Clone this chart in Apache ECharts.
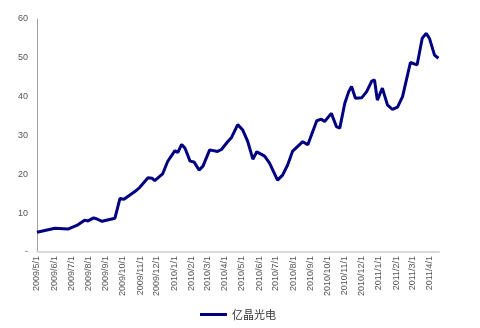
<!DOCTYPE html>
<html><head><meta charset="utf-8">
<script src="https://cdn.jsdelivr.net/npm/echarts@6/dist/echarts.min.js"></script>
<style>html,body{margin:0;padding:0;background:#fff}#c{width:480px;height:328px}</style>
</head><body><div id="c"></div>
<script>
var seriesName = '亿晶光电';
var dates = ['2009-05-01','2009-06-02','2009-06-25','2009-07-13','2009-07-25','2009-07-31','2009-08-10','2009-08-16','2009-08-25','2009-09-17',
 '2009-09-26','2009-10-03','2009-10-22','2009-10-31','2009-11-15','2009-11-22','2009-11-27','2009-12-11','2009-12-20','2010-01-02',
 '2010-01-07','2010-01-14','2010-01-20','2010-01-29','2010-02-05','2010-02-14','2010-02-21','2010-03-05','2010-03-19','2010-03-26',
 '2010-04-06','2010-04-13','2010-04-24','2010-05-03','2010-05-12','2010-05-21','2010-05-28','2010-06-11','2010-06-20','2010-07-04',
 '2010-07-13','2010-07-22','2010-07-31','2010-08-18','2010-08-27','2010-09-12','2010-09-20','2010-09-26','2010-10-08','2010-10-17',
 '2010-10-23','2010-11-01','2010-11-08','2010-11-13','2010-11-20','2010-12-01','2010-12-10','2010-12-19','2010-12-24','2010-12-29',
 '2011-01-07','2011-01-16','2011-01-25','2011-02-03','2011-02-12','2011-02-26','2011-03-10','2011-03-19','2011-03-26','2011-04-01',
 '2011-04-10','2011-04-17'];
var values = [5.1,6.1,5.9,7.0,8.2,8.0,8.8,8.5,7.9,8.7,
 13.8,13.6,15.5,16.6,19.1,19.0,18.4,20.1,23.3,26.1,
 25.6,27.7,26.7,23.4,23.2,21.1,22.1,26.3,25.9,26.4,
 28.4,29.5,32.8,31.4,28.4,23.9,25.8,24.7,22.8,18.5,
 19.8,22.4,26.0,28.4,27.6,33.8,34.2,33.6,35.7,32.3,
 31.9,38.3,41.3,42.6,39.6,39.7,41.3,44.0,44.3,39.1,
 42.2,37.9,36.7,37.3,40.0,48.8,48.2,55.0,56.3,55.0,
 50.7,49.9];
var monthTicks = ['2009-05-01','2009-06-01','2009-07-01','2009-08-01','2009-09-01','2009-10-01','2009-11-01','2009-12-01',
 '2010-01-01','2010-02-01','2010-03-01','2010-04-01','2010-05-01','2010-06-01','2010-07-01','2010-08-01','2010-09-01',
 '2010-10-01','2010-11-01','2010-12-01','2011-01-01','2011-02-01','2011-03-01','2011-04-01'];
var yTicks = [0,10,20,30,40,50,60];

function ts(s){var p=s.split('-');return new Date(+p[0],+p[1]-1,+p[2]).getTime();}
var data = dates.map(function(d,i){return [ts(d), values[i]];});
var tickTs = monthTicks.map(ts);

var chart = echarts.init(document.getElementById('c'));
chart.setOption({
  animation:false,
  grid:{left:37,right:41,top:19,bottom:76,containLabel:false},
  xAxis:{
    type:'value',
    min:ts('2009-05-01'), max:ts('2011-04-18'),
    axisLine:{lineStyle:{color:'#d9d9d9',width:2}},
    axisTick:{show:false},
    splitLine:{show:false},
    axisLabel:{
      customValues: tickTs,
      rotate:90, color:'#555', fontSize:9, fontFamily:'Liberation Sans, Arial', margin:4,
      hideOverlap:false, showMinLabel:true, showMaxLabel:true,
      formatter:function(v){var d=new Date(v);return d.getFullYear()+'/'+(d.getMonth()+1)+'/'+d.getDate();}
    }
  },
  yAxis:{
    type:'value', min:0, max:60, interval:10,
    axisLine:{show:true,lineStyle:{color:'#a0a0a0',width:1}},
    axisTick:{show:false},
    splitLine:{show:false},
    axisLabel:{color:'#555',fontSize:9,fontFamily:'Liberation Sans, Arial',margin:9,
      formatter:function(v){return v===0?'-':String(v);}}
  },
  legend:{
    bottom:3, left:195,
    itemWidth:27, itemHeight:3, itemGap:4,
    icon:'rect',
    textStyle:{fontSize:11,color:'#333',fontFamily:'Noto Sans CJK SC'},
    data:[seriesName]
  },
  series:[{
    name:seriesName, type:'line', data:data, showSymbol:false, symbol:'none',
    lineStyle:{color:'#000080',width:3}, itemStyle:{color:'#000080'}
  }]
});
</script></body></html>
